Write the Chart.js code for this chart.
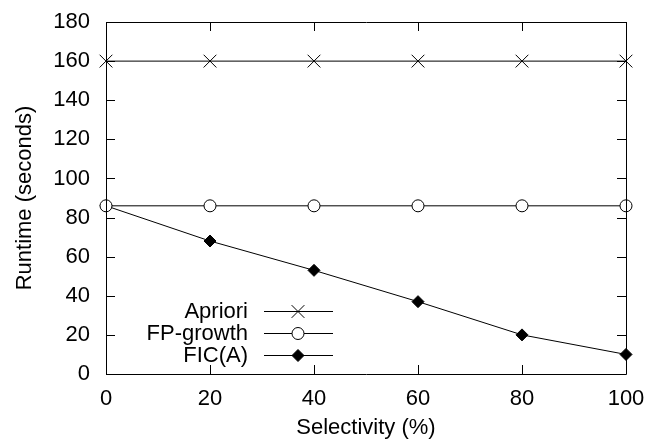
<!DOCTYPE html>
<html>
<head>
<meta charset="utf-8">
<script src="https://cdn.jsdelivr.net/npm/chart.js@4/dist/chart.umd.min.js"></script>
<style>
  html, body { margin: 0; padding: 0; background: #fff; }
  #wrap { width: 646px; height: 441px; }
</style>
</head>
<body>
<div id="wrap"><canvas id="chart" width="646" height="441"></canvas></div>
<script>
const selectivity = [0, 20, 40, 60, 80, 100];
const apriori = [160, 160, 160, 160, 160, 160];
const fpGrowth = [86, 86, 86, 86, 86, 86];
const ficA = [86, 68, 53, 37, 20, 10];
const seriesNames = ["Apriori", "FP-growth", "FIC(A)"];
const xTicks = [0, 20, 40, 60, 80, 100];
const yTicks = [0, 20, 40, 60, 80, 100, 120, 140, 160, 180];

const FONT = "'Liberation Sans', Arial, Helvetica, sans-serif";
const FSIZE = 22;

const toPoints = (vals) => vals.map((v, i) => ({ x: selectivity[i], y: v }));

// gnuplot style frame with inward ticks on all four sides
const framePlugin = {
  id: "frame",
  afterDraw(chart) {
    const { ctx, chartArea: a, scales } = chart;
    ctx.save();
    ctx.strokeStyle = "#000";
    ctx.lineWidth = 1;
    ctx.beginPath();
    ctx.rect(Math.round(a.left) + 0.5, Math.round(a.top) + 0.5,
      Math.round(a.right - a.left), Math.round(a.bottom - a.top));
    ctx.stroke();
    const t = 9;
    ctx.beginPath();
    xTicks.forEach((v) => {
      const px = Math.round(scales.x.getPixelForValue(v)) + 0.5;
      ctx.moveTo(px, a.bottom); ctx.lineTo(px, a.bottom - t);
      ctx.moveTo(px, a.top); ctx.lineTo(px, a.top + t);
    });
    yTicks.forEach((v) => {
      const py = Math.round(scales.y.getPixelForValue(v)) + 0.5;
      ctx.moveTo(a.left, py); ctx.lineTo(a.left + t, py);
      ctx.moveTo(a.right, py); ctx.lineTo(a.right - t, py);
    });
    ctx.stroke();
    ctx.restore();
  },
};

function drawMarker(ctx, style, x, y, r) {
  ctx.beginPath();
  if (style === "crossRot") {
    const d = r * Math.SQRT1_2;
    ctx.moveTo(x - d, y - d); ctx.lineTo(x + d, y + d);
    ctx.moveTo(x + d, y - d); ctx.lineTo(x - d, y + d);
    ctx.stroke();
  } else if (style === "circle") {
    ctx.arc(x, y, r, 0, Math.PI * 2);
    ctx.fillStyle = "#fff";
    ctx.fill();
    ctx.stroke();
  } else {
    ctx.moveTo(x, y - r); ctx.lineTo(x + r, y); ctx.lineTo(x, y + r); ctx.lineTo(x - r, y);
    ctx.closePath();
    ctx.fillStyle = "#000";
    ctx.fill();
    ctx.stroke();
  }
}

// legend in lower left: label right-aligned, then line sample with marker
const legendPlugin = {
  id: "keyBox",
  afterDraw(chart) {
    const { ctx, chartArea: a } = chart;
    ctx.save();
    ctx.font = FSIZE + "px " + FONT;
    ctx.textAlign = "right";
    ctx.textBaseline = "middle";
    ctx.strokeStyle = "#000";
    ctx.lineWidth = 1;
    chart.data.datasets.forEach((ds, i) => {
      const y = Math.round(a.bottom - 63 + i * 22) + 0.5;
      ctx.fillStyle = "#000";
      ctx.fillText(ds.label, a.left + 142, y);
      ctx.beginPath();
      ctx.moveTo(a.left + 158, y);
      ctx.lineTo(a.left + 227, y);
      ctx.stroke();
      drawMarker(ctx, ds.pointStyle, a.left + 192, y, ds.pointRadius);
    });
    ctx.restore();
  },
};

const common = {
  borderColor: "#000",
  borderWidth: 1,
  pointBorderColor: "#000",
  pointBorderWidth: 1,
  tension: 0,
  clip: false,
};

new Chart(document.getElementById("chart"), {
  type: "line",
  plugins: [framePlugin, legendPlugin],
  data: {
    datasets: [
      { ...common, label: seriesNames[0], data: toPoints(apriori),
        pointStyle: "crossRot", pointRadius: 9, pointBackgroundColor: "#000" },
      { ...common, label: seriesNames[1], data: toPoints(fpGrowth),
        pointStyle: "circle", pointRadius: 6, pointBackgroundColor: "#fff" },
      { ...common, label: seriesNames[2], data: toPoints(ficA),
        pointStyle: "rectRot", pointRadius: 6, pointBackgroundColor: "#000" },
    ],
  },
  options: {
    responsive: false,
    animation: false,
    layout: { padding: { top: 22, right: 20, left: 0, bottom: 0 } },
    plugins: { legend: { display: false }, tooltip: { enabled: false } },
    scales: {
      x: {
        type: "linear",
        min: 0, max: 100,
        afterFit: (s) => { s.height = 67; s.paddingLeft = 0; s.paddingRight = 0; },
        afterBuildTicks: (s) => { s.ticks = xTicks.map((v) => ({ value: v })); },
        grid: { display: false, drawTicks: false },
        border: { display: false },
        ticks: { color: "#000", font: { family: FONT, size: FSIZE }, padding: 12, maxRotation: 0 },
        title: { display: true, text: "Selectivity (%)", color: "#000",
          font: { family: FONT, size: FSIZE }, padding: { top: 0, bottom: 0 } },
      },
      y: {
        min: 0, max: 180,
        afterFit: (s) => { s.width = 106; s.paddingTop = 0; s.paddingBottom = 0; },
        afterBuildTicks: (s) => { s.ticks = yTicks.map((v) => ({ value: v })); },
        grid: { display: false, drawTicks: false },
        border: { display: false },
        ticks: { color: "#000", font: { family: FONT, size: FSIZE }, padding: 16 },
        title: { display: true, text: "Runtime (seconds)", color: "#000",
          font: { family: FONT, size: FSIZE }, padding: { top: 12, bottom: 0 } },
      },
    },
  },
});
</script>
</body>
</html>
